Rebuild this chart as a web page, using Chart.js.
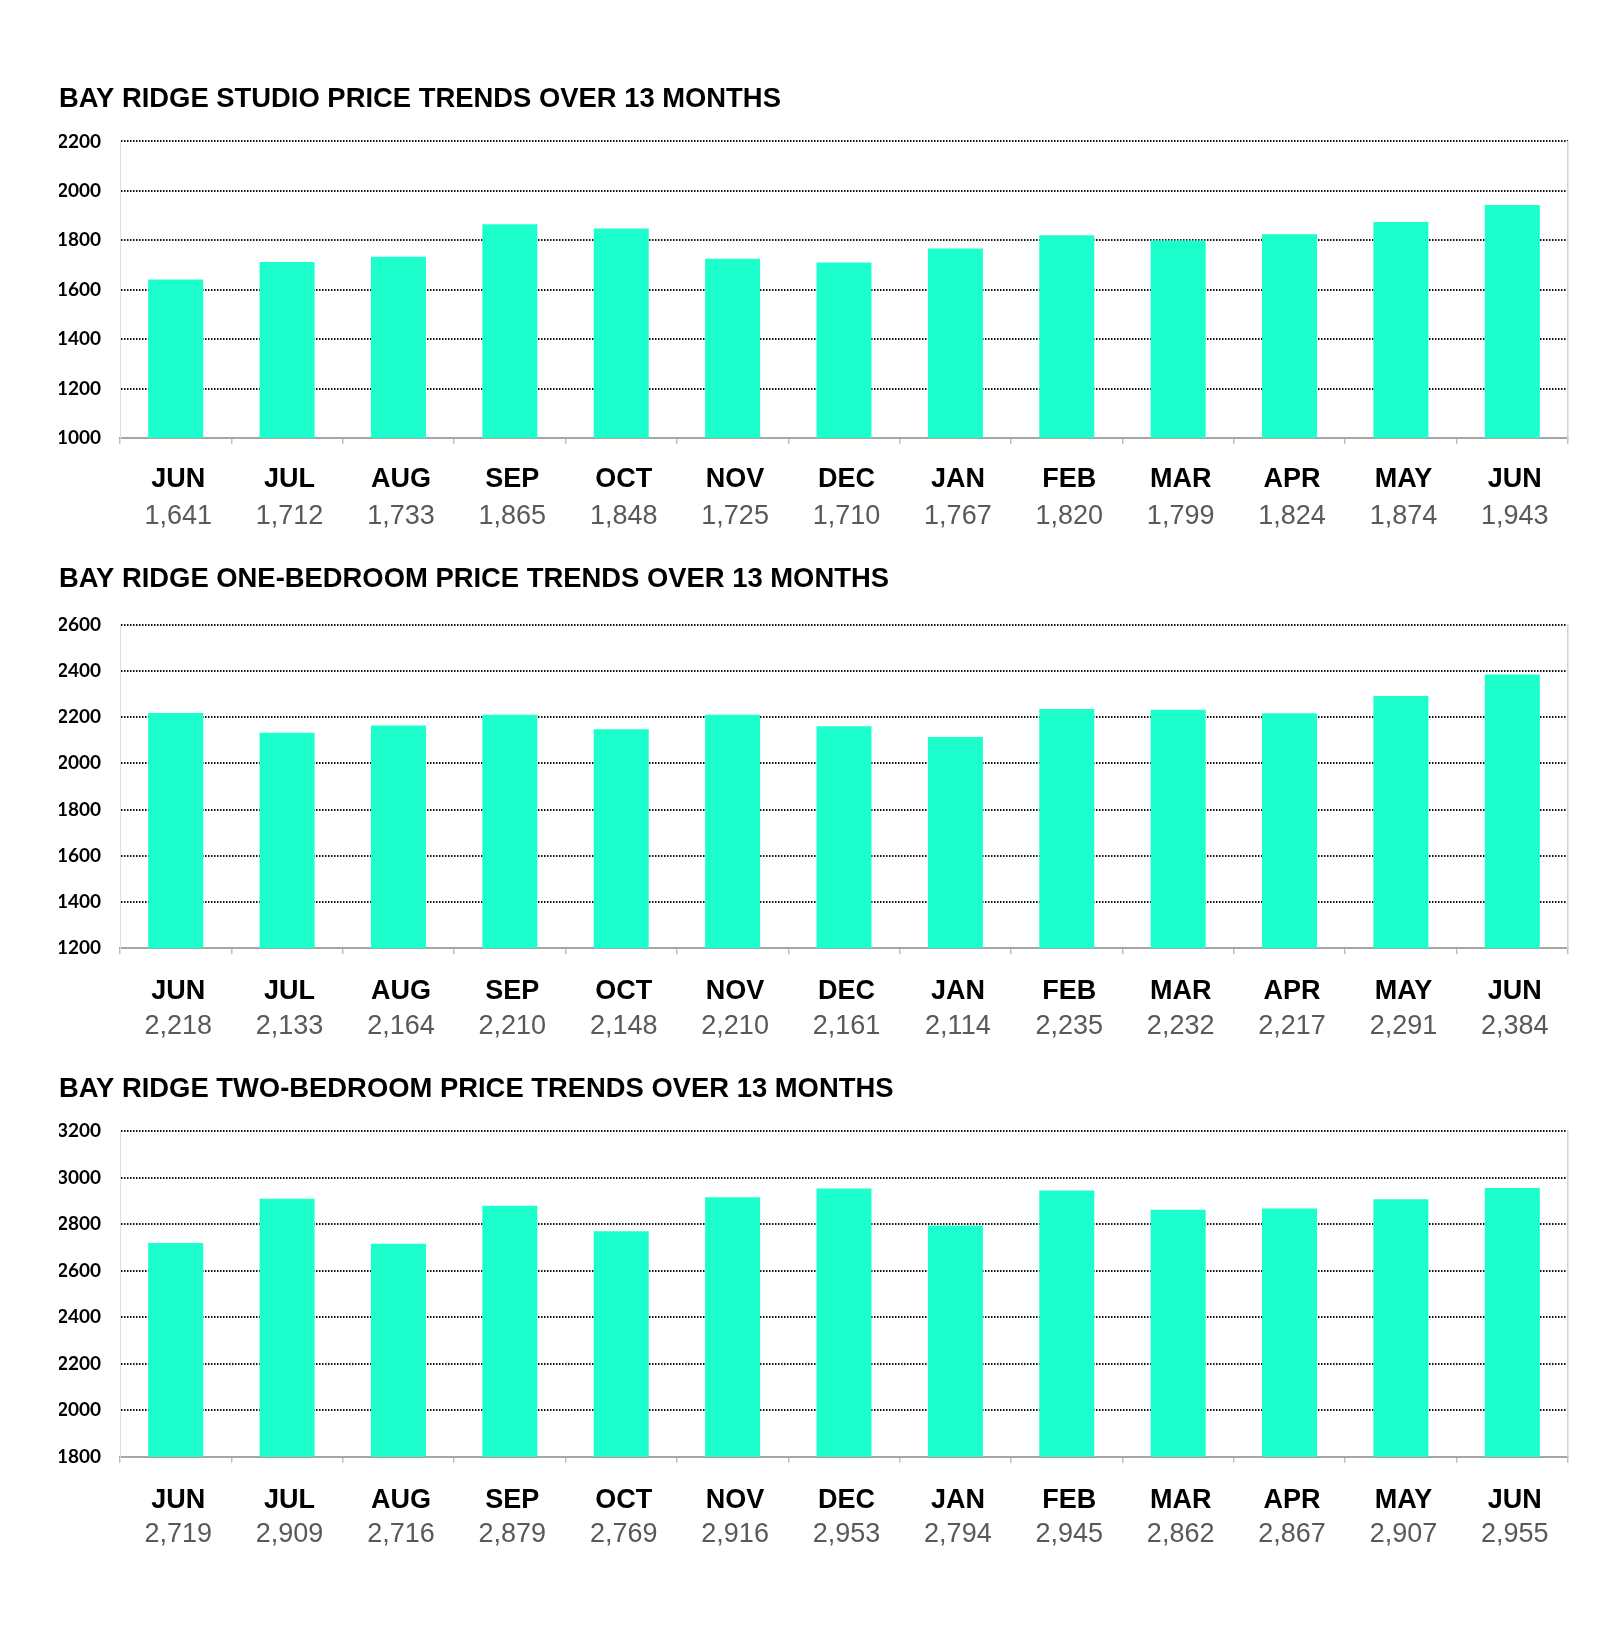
<!DOCTYPE html>
<html>
<head>
<meta charset="utf-8">
<script src="https://cdn.jsdelivr.net/npm/chart.js@4.4.1/dist/chart.umd.min.js"></script>
<style>
    body { margin: 0; background: #ffffff; }
    .block { position: absolute; left: 0; width: 1600px; }
</style>
</head>
<body>
<div class="block" style="top:60px;height:480px;"><canvas id="studio-chart"></canvas></div>
<div class="block" style="top:540px;height:510px;"><canvas id="onebed-chart"></canvas></div>
<div class="block" style="top:1050px;height:510px;"><canvas id="twobed-chart"></canvas></div>

<script>
// ==================== DATA ====================

const months = ['JUN', 'JUL', 'AUG', 'SEP', 'OCT', 'NOV', 'DEC', 'JAN', 'FEB', 'MAR', 'APR', 'MAY', 'JUN'];

const studioPrices = [1641, 1712, 1733, 1865, 1848, 1725, 1710, 1767, 1820, 1799, 1824, 1874, 1943];
const oneBedPrices = [2218, 2133, 2164, 2210, 2148, 2210, 2161, 2114, 2235, 2232, 2217, 2291, 2384];
const twoBedPrices = [2719, 2909, 2716, 2879, 2769, 2916, 2953, 2794, 2945, 2862, 2867, 2907, 2955];

// y axis range [min, max], ticks every 200
const studioRange = [1000, 2200];
const oneBedRange = [1200, 2600];
const twoBedRange = [1800, 3200];
const tickStep = 200;

const BAR_COLOR = '#1CFFCC';
const SANS = '"Liberation Sans", Arial, sans-serif';

// ==================== CHARTS ====================

function makePriceChart(canvasId, title, values, range, opts) {
    const ctx = document.getElementById(canvasId).getContext('2d');
    const [yMin, yMax] = range;

    return new Chart(ctx, {
        type: 'bar',
        data: {
            labels: months,
            datasets: [{
                data: values,
                backgroundColor: BAR_COLOR,
                barPercentage: 0.494,
                categoryPercentage: 1,
                xAxisID: 'x',
                yAxisID: 'y'
            }]
        },
        options: {
            responsive: true,
            maintainAspectRatio: false,
            animation: false,
            layout: {
                padding: { left: 59, right: 32, top: 0, bottom: opts.bottomPad }
            },
            plugins: {
                legend: { display: false },
                tooltip: { enabled: false },
                title: {
                    display: true,
                    text: title,
                    align: 'start',
                    color: '#000000',
                    font: { family: SANS, size: 27.4, weight: 'bold', lineHeight: 1.2 },
                    padding: { top: 23, bottom: opts.titleGap - 1.5 }
                }
            },
            scales: {
                x: {
                    type: 'category',
                    position: 'bottom',
                    weight: 0,
                    offset: true,
                    grid: {
                        offset: true,
                        drawOnChartArea: false,
                        drawTicks: true,
                        tickLength: 6,
                        color: '#bfbfbf',
                        lineWidth: 1.5
                    },
                    border: { display: true, color: '#a6a6a6', width: 2 },
                    ticks: {
                        autoSkip: false,
                        maxRotation: 0,
                        padding: opts.monthPad + 1.5,
                        labelOffset: 2.5,
                        color: '#000000',
                        font: { family: SANS, size: 27, weight: 'bold', lineHeight: 1.2 }
                    },
                    afterFit: (scale) => { scale.height = 54; }
                },
                x2: {
                    type: 'category',
                    position: 'bottom',
                    weight: 1,
                    labels: values.map(v => v.toLocaleString('en-US')),
                    offset: true,
                    grid: { display: false },
                    border: { display: false },
                    ticks: {
                        autoSkip: false,
                        maxRotation: 0,
                        padding: 0,
                        labelOffset: 2.5,
                        color: '#595959',
                        font: { family: SANS, size: 27, weight: 'normal', lineHeight: 1.2 }
                    },
                    afterFit: (scale) => { scale.height = 46; }
                },
                y: {
                    type: 'linear',
                    position: 'left',
                    min: yMin,
                    max: yMax,
                    ticks: {
                        stepSize: tickStep,
                        padding: 19,
                        color: '#000000',
                        font: { family: 'Lato, "Liberation Sans", sans-serif', size: 19, weight: 'bold' },
                        callback: (v) => String(v)
                    },
                    grid: {
                        drawTicks: false,
                        lineWidth: 2,
                        // pas de pointillés sur la ligne de base
                        color: (c) => (c.tick && c.tick.value === yMin) ? 'rgba(0,0,0,0)' : '#111111'
                    },
                    border: { display: true, color: '#dddddd', width: 1, dash: [1.5, 1.5] },
                    afterFit: (scale) => { scale.width = 61; }
                },
                y2: {
                    type: 'linear',
                    position: 'right',
                    ticks: { display: false },
                    grid: { display: false },
                    border: { display: true, color: '#d4d4d4', width: 1.5 },
                    afterFit: (scale) => { scale.width = 0; }
                }
            }
        }
    });
}

makePriceChart('studio-chart', 'BAY RIDGE STUDIO PRICE TRENDS OVER 13 MONTHS', studioPrices, studioRange,
    { titleGap: 27, monthPad: 18, bottomPad: 2 });
makePriceChart('onebed-chart', 'BAY RIDGE ONE-BEDROOM PRICE TRENDS OVER 13 MONTHS', oneBedPrices, oneBedRange,
    { titleGap: 30.3, monthPad: 19.2, bottomPad: 1.7 });
makePriceChart('twobed-chart', 'BAY RIDGE TWO-BEDROOM PRICE TRENDS OVER 13 MONTHS', twoBedPrices, twoBedRange,
    { titleGap: 26.7, monthPad: 19.9, bottomPad: 3.3 });
</script>
</body>
</html>
